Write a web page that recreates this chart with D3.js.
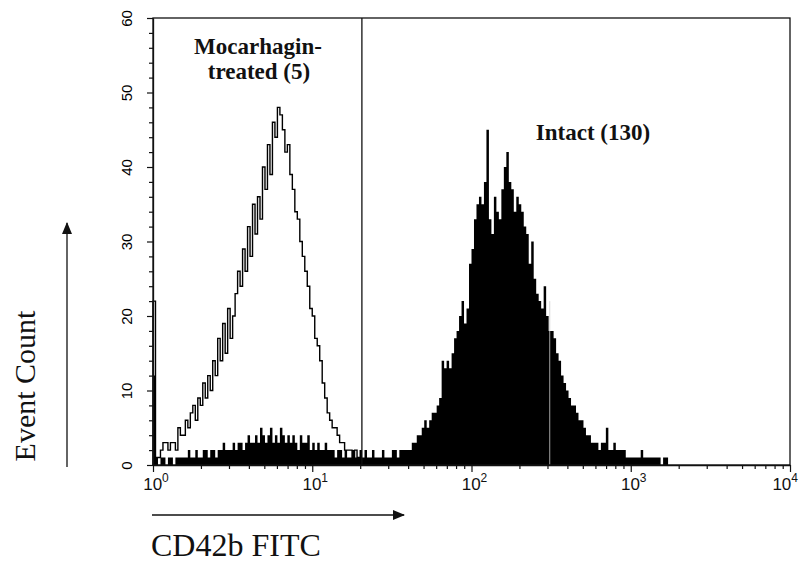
<!DOCTYPE html>
<html lang="en">
<head>
<meta charset="UTF-8">
<title>CD42b FITC histogram</title>
<script src="https://d3js.org/d3.v7.min.js"></script>
<style>
  body { margin: 0; background: #fff; overflow: hidden; }
  .tick text { font-family: "Liberation Sans", Arial, sans-serif; font-size: 15px; fill: #000; }
  .tick line, .domain { stroke: #111; }
  .lbl { font-family: "Liberation Serif", "Times New Roman", serif; fill: #111; }
</style>
</head>
<body>
<div id="chart"></div>
<script>
// channel counts, 64 channels per decade starting at 10^0
var channelsPerDecade = 64;

var intactCounts = [
  12,1,0,1,1,0,1,1,0,1,
  1,1,1,1,2,1,1,2,1,1,
  2,2,1,2,2,1,2,2,3,2,
  2,2,3,2,3,3,2,3,4,3,
  3,4,3,5,4,3,4,5,3,4,
  3,5,4,3,4,3,4,3,2,4,
  3,3,4,2,3,2,3,2,2,3,
  2,2,2,1,2,2,1,2,1,1,
  2,1,1,2,1,2,1,1,2,1,
  1,1,2,1,1,1,2,2,1,2,
  2,2,2,2,3,3,4,4,5,6,
  5,6,7,7,8,9,14,13,14,13,
  15,17,18,20,22,19,21,27,29,33,
  35,36,35,38,45,33,31,36,34,33,
  37,40,42,38,37,34,36,35,34,32,
  31,27,30,25,23,22,21,24,20,18,
  18,17,15,14,12,11,10,9,8,8,
  7,6,6,5,4,4,3,3,3,2,
  3,3,5,2,2,3,2,2,2,2,
  1,1,1,1,1,1,2,1,1,1,
  1,1,1,1,0,1,1,0
];

var mocarhaginCounts = [
  22,1,1,2,3,3,2,3,3,2,
  5,4,4,6,5,7,8,6,9,8,
  11,9,12,10,14,12,17,14,19,15,
  21,17,20,23,26,24,29,26,32,28,
  35,31,36,33,40,37,43,39,46,44,
  48,47,45,42,43,39,37,34,33,30,
  28,26,24,21,20,17,16,14,11,9,
  7,6,5,5,4,3,3,2,2,2,
  1,2,1,0
];

var yTicks = [0, 10, 20, 30, 40, 50, 60];
var xDecades = [0, 1, 2, 3, 4];
var gateValue = 20.5;     // marker between the two populations
var faintMarker = 310;

var svg = d3.select("#chart").append("svg")
    .attr("width", 799)
    .attr("height", 564);

var plot = { left: 153, right: 790, top: 18, bottom: 465 };

var x = d3.scaleLog().domain([1, 10000]).range([plot.left, plot.right]);
var y = d3.scaleLinear().domain([0, 60]).range([plot.bottom, plot.top]);

function toBins(counts) {
  var pts = counts.map(function(c, i) {
    return { e: Math.pow(10, i / channelsPerDecade), c: c };
  });
  pts.push({ e: Math.pow(10, counts.length / channelsPerDecade), c: 0 });
  return pts;
}

// intact population, filled
var area = d3.area()
    .curve(d3.curveStepAfter)
    .x(function(d) { return x(d.e); })
    .y0(y(0))
    .y1(function(d) { return y(d.c); });

svg.append("path")
    .datum(toBins(intactCounts))
    .attr("d", area)
    .attr("fill", "#000");

svg.append("line")
    .attr("x1", x(faintMarker)).attr("x2", x(faintMarker))
    .attr("y1", y(22)).attr("y2", y(0))
    .attr("stroke", "#ccc").attr("stroke-width", 0.8);

// mocarhagin-treated, outline only
var line = d3.line()
    .curve(d3.curveStepAfter)
    .x(function(d) { return x(d.e); })
    .y(function(d) { return y(d.c); });

svg.append("path")
    .datum([{ e: 1, c: 0 }].concat(toBins(mocarhaginCounts)))
    .attr("d", line)
    .attr("fill", "none")
    .attr("stroke", "#000")
    .attr("stroke-width", 1.4);

// gate line
svg.append("line")
    .attr("x1", x(gateValue)).attr("x2", x(gateValue))
    .attr("y1", plot.top).attr("y2", plot.bottom)
    .attr("stroke", "#111").attr("stroke-width", 1.3);

// frame
svg.append("rect")
    .attr("x", plot.left).attr("y", plot.top)
    .attr("width", plot.right - plot.left).attr("height", plot.bottom - plot.top)
    .attr("fill", "none").attr("stroke", "#111").attr("stroke-width", 1.3);

// y axis
var yAxis = d3.axisLeft(y)
    .tickValues(d3.range(0, 61, 2))
    .tickSizeOuter(0)
    .tickFormat(function(d) { return yTicks.indexOf(d) >= 0 ? d : ""; });

var gy = svg.append("g").attr("transform", "translate(" + plot.left + ",0)").call(yAxis);
gy.select(".domain").attr("stroke-width", 1.3);
gy.selectAll(".tick line")
    .attr("x2", function(d) { return d % 10 === 0 ? -6 : -4; })
    .attr("stroke-width", 1.2);
gy.selectAll(".tick text")
    .attr("x", 0).attr("dy", 0)
    .attr("text-anchor", "middle")
    .attr("transform", "translate(-21,0) rotate(-90)");

// x axis
var xTickVals = [];
xDecades.forEach(function(p) {
  for (var m = 1; m < 10; m++) {
    var v = m * Math.pow(10, p);
    if (v <= 10000) xTickVals.push(v);
  }
});

var xAxis = d3.axisBottom(x)
    .tickValues(xTickVals)
    .tickSizeOuter(0)
    .tickFormat("");

var gx = svg.append("g").attr("transform", "translate(0," + plot.bottom + ")").call(xAxis);
gx.select(".domain").attr("stroke-width", 1.3);
gx.selectAll(".tick line")
    .attr("y2", function(d) { return Math.abs(Math.log10(d) - Math.round(Math.log10(d))) < 1e-9 ? 7 : 4; })
    .attr("stroke-width", 1.2);

var xl = svg.append("g").selectAll("text")
    .data(xDecades)
    .join("text")
    .attr("x", function(p) { return p === 4 ? 798 : x(Math.pow(10, p)) + 3; })
    .attr("y", plot.bottom + 25)
    .attr("text-anchor", function(p) { return p === 4 ? "end" : "middle"; })
    .style("font-family", "Liberation Sans, Arial, sans-serif")
    .style("font-size", "17px")
    .attr("fill", "#111");
xl.append("tspan").text("10");
xl.append("tspan").text(function(p) { return p; })
    .attr("dy", -8).style("font-size", "12px");

// population labels
svg.append("text").attr("class", "lbl")
    .attr("x", 258).attr("y", 54)
    .attr("text-anchor", "middle")
    .style("font-size", "23px").style("font-weight", "bold")
    .text("Mocarhagin-");
svg.append("text").attr("class", "lbl")
    .attr("x", 259).attr("y", 79)
    .attr("text-anchor", "middle")
    .style("font-size", "23px").style("font-weight", "bold")
    .text("treated (5)");
svg.append("text").attr("class", "lbl")
    .attr("x", 593).attr("y", 140)
    .attr("text-anchor", "middle")
    .style("font-size", "23px").style("font-weight", "bold")
    .text("Intact (130)");

// axis titles with arrows
var defs = svg.append("defs");
defs.append("marker")
    .attr("id", "head")
    .attr("viewBox", "0 0 12 10")
    .attr("refX", 11).attr("refY", 5)
    .attr("markerWidth", 12).attr("markerHeight", 10)
    .attr("markerUnits", "userSpaceOnUse")
    .attr("orient", "auto")
  .append("path")
    .attr("d", "M0,0L12,5L0,10Z")
    .attr("fill", "#111");

svg.append("line")
    .attr("x1", 67).attr("y1", 467).attr("x2", 67).attr("y2", 223)
    .attr("stroke", "#111").attr("stroke-width", 1.3)
    .attr("marker-end", "url(#head)");

svg.append("line")
    .attr("x1", 152).attr("y1", 515).attr("x2", 404).attr("y2", 515)
    .attr("stroke", "#111").attr("stroke-width", 1.3)
    .attr("marker-end", "url(#head)");

svg.append("text").attr("class", "lbl")
    .attr("transform", "translate(35,386) rotate(-90)")
    .attr("text-anchor", "middle")
    .style("font-size", "30px")
    .text("Event Count");

svg.append("text").attr("class", "lbl")
    .attr("x", 151).attr("y", 556)
    .style("font-size", "32px")
    .text("CD42b FITC");
</script>
</body>
</html>
